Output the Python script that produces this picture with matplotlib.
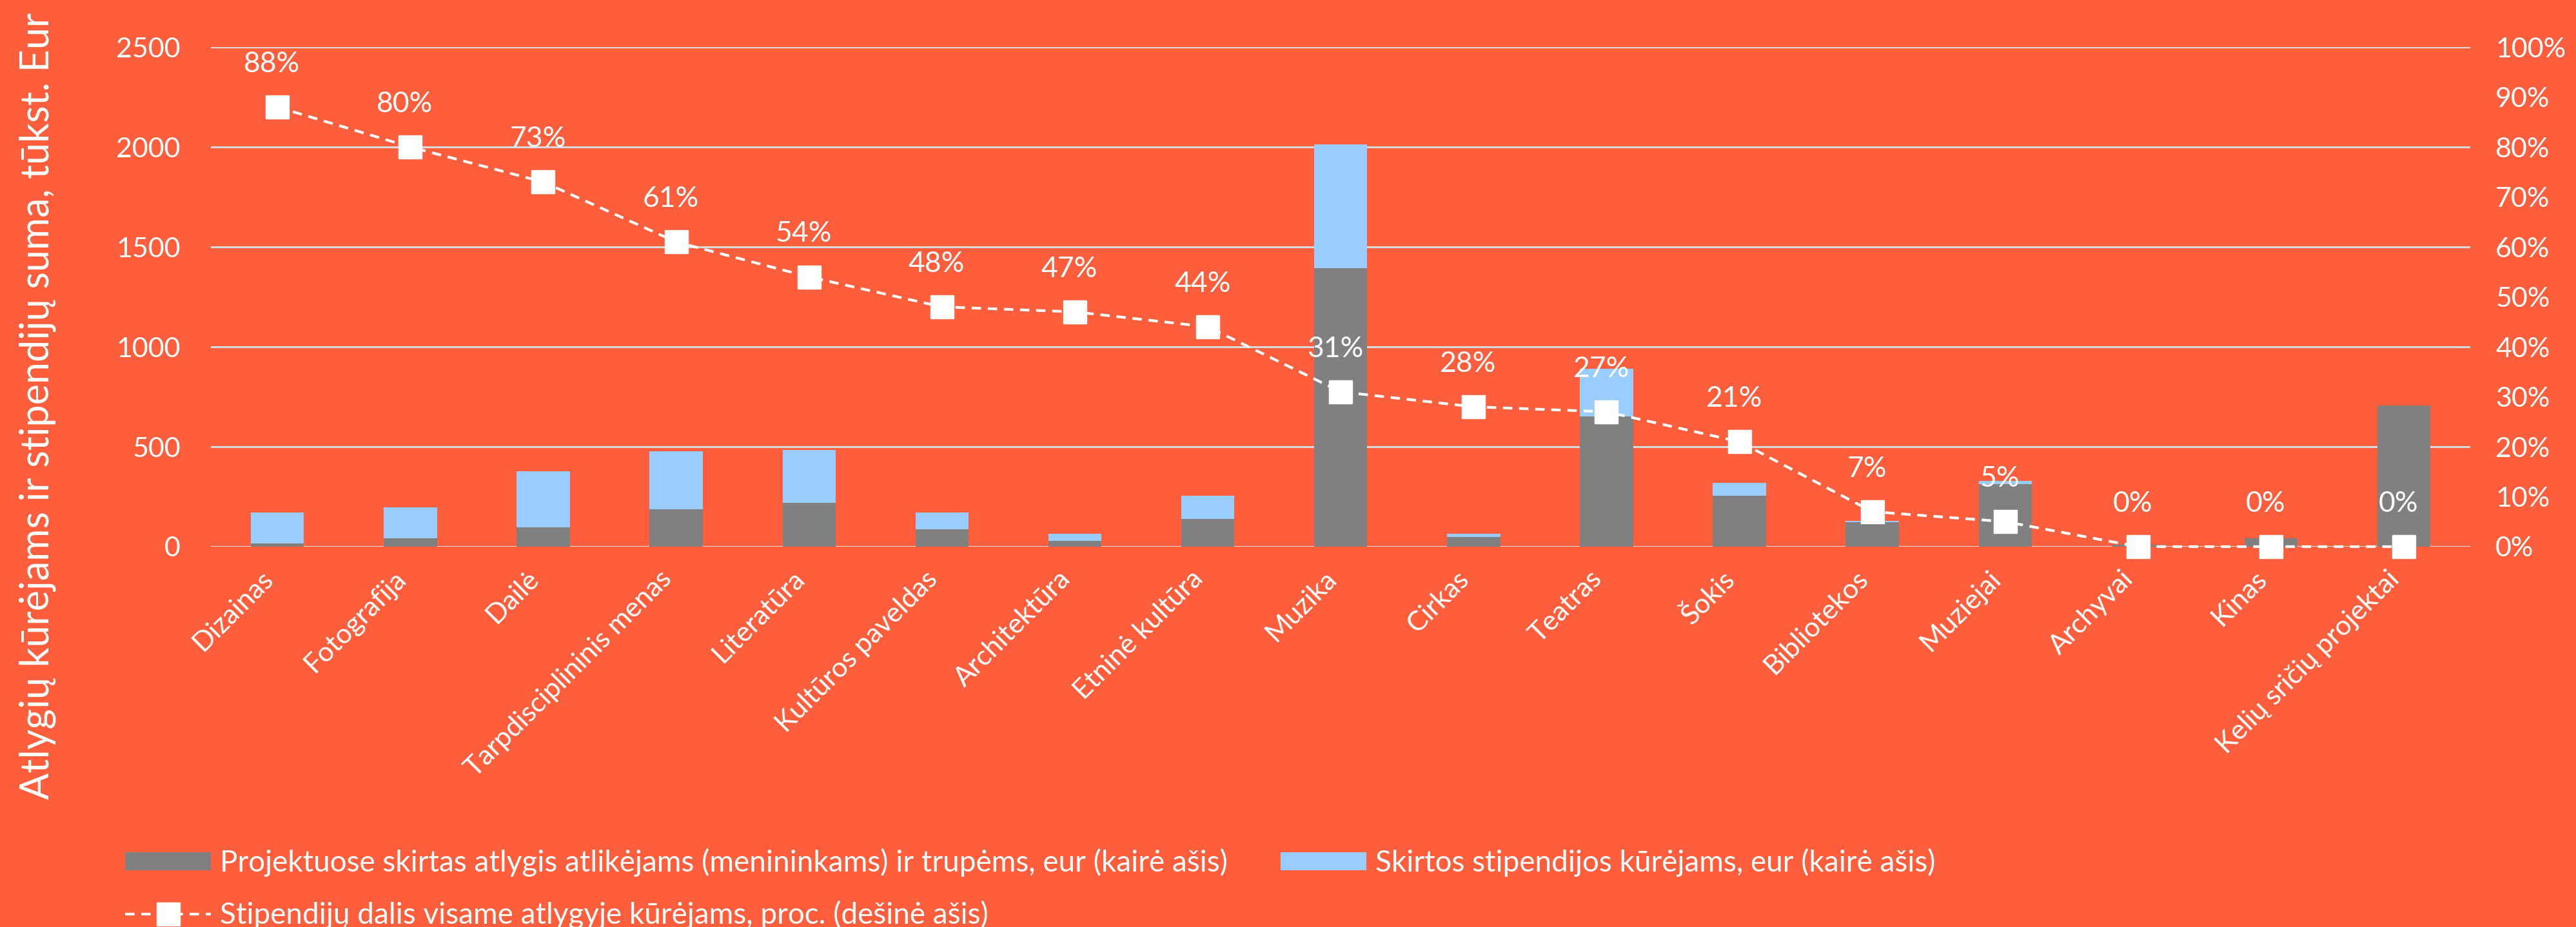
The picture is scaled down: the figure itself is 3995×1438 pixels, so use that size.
import numpy as np
import matplotlib
matplotlib.use("Agg")
import matplotlib.pyplot as plt

# data, thousand EUR and percent
categories = ["Dizainas", "Fotografija", "Dailė", "Tarpdisciplininis menas",
              "Literatūra", "Kultūros paveldas", "Architektūra", "Etninė kultūra",
              "Muzika", "Cirkas", "Teatras", "Šokis", "Bibliotekos", "Muziejai",
              "Archyvai", "Kinas", "Kelių sričių projektai"]
atlygis = [15, 41, 96, 187, 220, 87, 30, 139, 1393, 48, 652, 254, 122, 313, 10, 41, 707]
stipendijos = [155, 155, 282, 289, 265, 83, 33, 115, 620, 15, 237, 65, 8, 15, 0, 0, 0]
dalis = [88, 80, 73, 61, 54, 48, 47, 44, 31, 28, 27, 21, 7, 5, 0, 0, 0]

left_ticks = [0, 500, 1000, 1500, 2000, 2500]
right_ticks = list(range(0, 101, 10))

bg = "#FF5E3C"
grey = "#808080"
blue = "#99CCFF"
gridc = "#D9D9D9"
fnt = "Lato"

plt.rcParams["font.family"] = [fnt, "DejaVu Sans"]

fig = plt.figure(figsize=(39.95, 14.38), dpi=100, facecolor=bg)
ax = fig.add_axes([0.0819, 0.4103, 0.959 - 0.0819, 0.9492 - 0.4103])
ax.set_facecolor(bg)

x = np.arange(len(categories))
b1 = ax.bar(x, atlygis, width=0.4, color=grey, zorder=2,
            label="Projektuose skirtas atlygis atlikėjams (menininkams) ir trupėms, eur (kairė ašis)")
b2 = ax.bar(x, stipendijos, width=0.4, bottom=atlygis, color=blue, zorder=2,
            label="Skirtos stipendijos kūrėjams, eur (kairė ašis)")

ax.set_ylim(0, 2500)
ax.set_xlim(-0.5, len(categories) - 0.5)
ax.set_yticks(left_ticks)
ax.yaxis.grid(True, color=gridc, lw=2.2, zorder=0)
ax.set_axisbelow(True)
for s in ax.spines.values():
    s.set_visible(False)
ax.tick_params(axis="y", length=0, pad=34, labelsize=31, labelcolor="white")
ax.set_xticks(x)
ax.set_xticklabels(categories, rotation=45, ha="right", va="top")
ax.tick_params(axis="x", length=0, pad=22, labelsize=31, labelcolor="white")

ax2 = ax.twinx()
ax2.set_ylim(0, 100)
ax2.set_yticks(right_ticks)
ax2.set_yticklabels([f"{t}%" for t in right_ticks])
for s in ax2.spines.values():
    s.set_visible(False)
ax2.tick_params(axis="y", length=0, pad=28, labelsize=31, labelcolor="white")
ln, = ax2.plot(x, dalis, color="white", lw=3, ls=(0, (3.5, 2.5)), marker="s",
               markersize=26, markerfacecolor="white", markeredgecolor="white",
               zorder=5, clip_on=False,
               label="Stipendijų dalis visame atlygyje kūrėjams, proc. (dešinė ašis)")
for xi, v in zip(x, dalis):
    ax2.annotate(f"{v}%", (xi, v), xytext=(-6, 48), textcoords="offset points",
                 ha="center", va="center", color="white", fontsize=32)

fig.text(0.0145, 0.562, "Atlygių kūrėjams ir stipendijų suma, tūkst. Eur",
         rotation=90, ha="center", va="center", color="white", fontsize=44)

leg = fig.legend([b1, ln, b2], [b1.get_label(), ln.get_label(), b2.get_label()],
                 ncol=2, loc="upper left", bbox_to_anchor=(0.0486, 0.085),
                 frameon=False, fontsize=33, handlelength=2.9, handleheight=0.55,
                 handletextpad=0.3, labelspacing=0.8, columnspacing=1.8,
                 borderpad=0, borderaxespad=0)
for t in leg.get_texts():
    t.set_color("white")

fig.savefig("out.png", dpi=100, facecolor=bg)
